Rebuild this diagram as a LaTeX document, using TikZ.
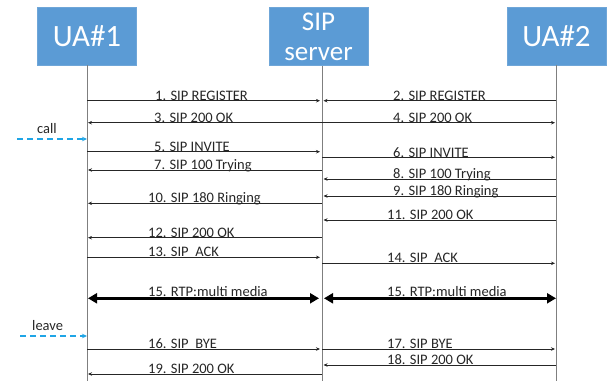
\documentclass[tikz,border=0pt]{standalone}
\usepackage{fontspec}
\setmainfont{Carlito}
\usetikzlibrary{arrows.meta}
\definecolor{boxfill}{HTML}{5B9BD5}
\definecolor{boxedge}{HTML}{6FA6D8}
\definecolor{lifegray}{HTML}{7F7F7F}
\definecolor{msgc}{HTML}{262626}
\definecolor{txt}{HTML}{262626}
\definecolor{cyanc}{HTML}{1FA5E6}
\begin{document}
\begin{tikzpicture}[x=1pt,y=-1pt,
 actor/.style={draw=boxedge, fill=boxfill, text=white, minimum width=99pt, minimum height=58pt, inner sep=0pt, align=center},
 life/.style={draw=lifegray, line width=1pt},
 msg/.style={draw=msgc, line width=0.75pt, -{Stealth[length=4pt,width=3.5pt]}},
 lbl/.style={anchor=base west, inner sep=0pt, text=txt, font=\fontsize{14.5}{14.5}\selectfont},
 rtp/.style={draw=black, line width=2.6pt, {Triangle[length=9pt,width=10pt]}-{Triangle[length=9pt,width=10pt]}},
 trig/.style={draw=cyanc, line width=1.3pt, dash pattern=on 6pt off 4pt, -{Stealth[length=5pt,width=4.5pt]}},
]
\useasboundingbox (0,0) rectangle (608,381);
% actors
\node[actor, font=\fontsize{31}{31}\selectfont] (ua1) at (87,36) {UA\#1};
\node[actor, font=\fontsize{27}{30}\selectfont] (srv) at (318.5,36.5) {SIP\\server};
\node[actor, font=\fontsize{31}{31}\selectfont] (ua2) at (556.5,36) {UA\#2};
% lifelines
\coordinate (L1) at (87,65);
\coordinate (L2) at (322,66);
\coordinate (L3) at (556,65);
\coordinate (B1) at (87,381);
\coordinate (B2) at (322,381);
\coordinate (B3) at (556,381);
\draw[life] (L1) -- (B1);
\draw[life] (L2) -- (B2);
\draw[life] (L3) -- (B3);
% messages
\draw[msg, shorten >=2pt] (L1 |- 0,100.7) -- (L2 |- 0,100.7);
\node[lbl] (m1) at (155,100.7) {1. SIP REGISTER};
\draw[msg, shorten >=1.5pt] (L3 |- 0,100.7) -- (L2 |- 0,100.7);
\node[lbl] (m2) at (393,100.7) {2. SIP REGISTER};
\draw[msg, shorten >=1pt] (L2 |- 0,122.7) -- (L1 |- 0,122.7);
\node[lbl] (m3) at (154,122.2) {3. SIP 200 OK};
\draw[msg, shorten >=1pt] (L2 |- 0,122.7) -- (L3 |- 0,122.7);
\node[lbl] (m4) at (393,122.2) {4. SIP 200 OK};
% call
\coordinate (c0) at (17,139);
\draw[trig] (c0) -- (L1 |- c0);
\node[lbl] (call) at (37,133) {call};
\draw[msg, shorten >=2pt] (L1 |- 0,151.7) -- (L2 |- 0,151.7);
\node[lbl] (m5) at (154,151.2) {5. SIP INVITE};
\draw[msg, shorten >=1pt] (L2 |- 0,157.3) -- (L3 |- 0,157.3);
\node[lbl] (m6) at (393,157.3) {6. SIP INVITE};
\draw[msg, shorten >=1pt] (L2 |- 0,170) -- (L1 |- 0,170);
\node[lbl] (m7) at (154,169.5) {7. SIP 100 Trying};
\draw[msg, shorten >=1.5pt] (L3 |- 0,179) -- (L2 |- 0,179);
\node[lbl] (m8) at (393,178.5) {8. SIP 100 Trying};
\draw[msg, shorten >=1.5pt] (L3 |- 0,196) -- (L2 |- 0,196);
\node[lbl] (m9) at (393,195.5) {9. SIP 180 Ringing};
\draw[msg, shorten >=1pt] (L2 |- 0,203.3) -- (L1 |- 0,203.3);
\node[lbl] (m10) at (148,202.8) {10. SIP 180 Ringing};
\draw[msg, shorten >=1.5pt] (L3 |- 0,220) -- (L2 |- 0,220);
\node[lbl] (m11) at (387,219.5) {11. SIP 200 OK};
\draw[msg, shorten >=1pt] (L2 |- 0,237.7) -- (L1 |- 0,237.7);
\node[lbl] (m12) at (148,237.2) {12. SIP 200 OK};
\draw[msg, shorten >=2pt] (L1 |- 0,257.3) -- (L2 |- 0,257.3);
\node[lbl] (m13) at (148,256.8) {13. SIP\ \ ACK};
\draw[msg, shorten >=1pt] (L2 |- 0,263.3) -- (L3 |- 0,263.3);
\node[lbl] (m14) at (387,262.8) {14. SIP\ \ ACK};
% RTP
\draw[rtp, shorten <=1pt, shorten >=3pt] (L1 |- 0,298.3) -- (L2 |- 0,298.3);
\node[lbl] (m15a) at (148,296) {15. RTP:multi media};
\draw[rtp, shorten <=2pt, shorten >=0pt] (L2 |- 0,298.3) -- (L3 |- 0,298.3);
\node[lbl] (m15b) at (387,296) {15. RTP:multi media};
% leave
\coordinate (c1) at (20,336);
\draw[trig] (c1) -- (L1 |- c1);
\node[lbl] (leave) at (32,330) {leave};
\draw[msg, shorten >=2pt] (L1 |- 0,349) -- (L2 |- 0,349);
\node[lbl] (m16) at (148,348.5) {16. SIP\ \ BYE};
\draw[msg, shorten >=1pt] (L2 |- 0,349) -- (L3 |- 0,349);
\node[lbl] (m17) at (387,348.5) {17. SIP BYE};
\draw[msg, shorten >=1.5pt] (L3 |- 0,365) -- (L2 |- 0,365);
\node[lbl] (m18) at (387,364.5) {18. SIP 200 OK};
\draw[msg, shorten >=1pt] (L2 |- 0,374) -- (L1 |- 0,374);
\node[lbl] (m19) at (148,373.5) {19. SIP 200 OK};
\end{tikzpicture}
\end{document}
